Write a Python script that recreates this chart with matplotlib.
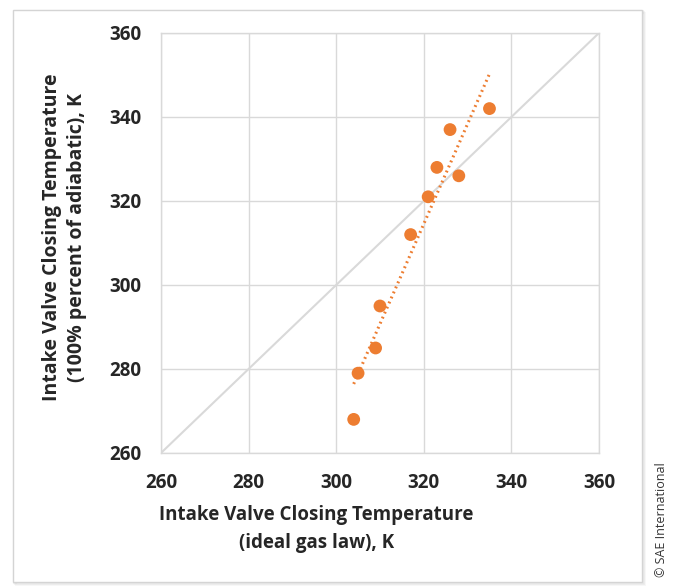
import numpy as np
import matplotlib.pyplot as plt
from matplotlib.patches import Rectangle

plt.rcParams['font.family'] = ['Open Sans', 'DejaVu Sans']

# IVC temperature: ideal gas law estimate vs. 100% adiabatic estimate, K
t_ideal = [304, 305, 309, 310, 317, 321, 323, 326, 328, 335]
t_adiabatic = [268, 279, 285, 295, 312, 321, 328, 337, 326, 342]
ticks = [260, 280, 300, 320, 340, 360]

orange = '#ED7D31'
grid_gray = '#d9d9d9'
text_col = '#262626'

fig = plt.figure(figsize=(6.73, 5.87), dpi=100)

# framed panel with a soft drop shadow
for i, a in enumerate([0.05, 0.04, 0.03]):
    d = (i + 1) * 0.0015
    fig.patches.append(Rectangle((0.0193 + d, 0.0085 - d), 0.935, 0.9745, transform=fig.transFigure,
                                 facecolor='none', edgecolor='black', alpha=a, lw=1.5, zorder=-2))
fig.patches.append(Rectangle((0.0193, 0.0085), 0.935, 0.9745, transform=fig.transFigure,
                             facecolor='white', edgecolor='#d4d4d4', lw=1.0, zorder=-1))

ax = fig.add_axes([0.2392, 0.2283, 0.6508, 0.7155])
ax.patch.set_alpha(0)
ax.set_xlim(260, 360)
ax.set_ylim(260, 360)
ax.set_xticks(ticks)
ax.set_yticks(ticks)
ax.grid(True, color=grid_gray, lw=1.0)
ax.set_axisbelow(True)
for s in ax.spines.values():
    s.set_color(grid_gray)
    s.set_linewidth(1.0)
ax.tick_params(length=0, labelsize=13.5, labelcolor=text_col, pad=14)
for lbl in ax.get_xticklabels() + ax.get_yticklabels():
    lbl.set_fontweight('bold')
ax.tick_params(axis='x', pad=14.5)

# 1:1 reference line
ax.plot([260, 360], [260, 360], color=grid_gray, lw=1.5, zorder=1)

# linear trend through the points
coef = np.polyfit(t_ideal, t_adiabatic, 1)
xs = np.array([min(t_ideal), max(t_ideal)])
ax.plot(xs, np.polyval(coef, xs), color=orange, lw=2.2, ls=(0, (0.6, 1.2)), zorder=2)

ax.scatter(t_ideal, t_adiabatic, s=85, color=orange, edgecolor='none', zorder=3)

fig.text(0.47, 0.099, 'Intake Valve Closing Temperature\n(ideal gas law), K', ha='center', va='center',
         fontsize=13.5, fontweight='bold', color=text_col, linespacing=1.5)
fig.text(0.0955, 0.596, 'Intake Valve Closing Temperature\n(100% percent of adiabatic), K', ha='center',
         va='center', rotation=90, fontsize=14, fontweight='bold', color=text_col, linespacing=1.35)

fig.text(0.983, 0.114, '© SAE International', rotation=90, ha='center', va='center', fontsize=9,
         color='#333333')

fig.savefig('out.png', dpi=100)
